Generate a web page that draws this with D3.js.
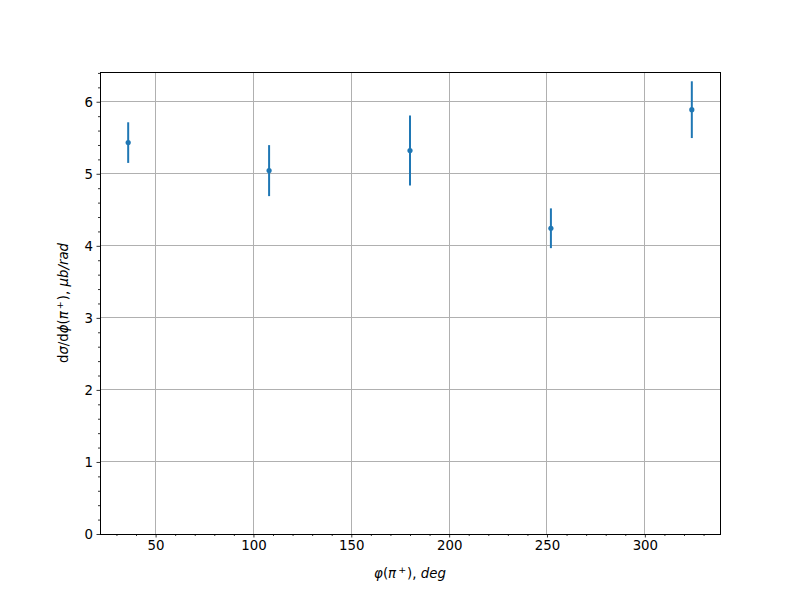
<!DOCTYPE html>
<html><head><meta charset="utf-8">
<script src="https://cdn.jsdelivr.net/npm/d3@7"></script>
<style>
body{margin:0;background:#fff;}
text{font-family:"DejaVu Sans",sans-serif;}
</style></head>
<body><svg id="c" width="800" height="600"></svg>
<script>
const phi = [36, 108, 180, 252, 324];
const sigma = [5.433, 5.044, 5.322, 4.244, 5.890];
const err = [0.282, 0.354, 0.486, 0.276, 0.394];
const xTicks = [50, 100, 150, 200, 250, 300];
const yTicks = [0, 1, 2, 3, 4, 5, 6];

const svg = d3.select("#c");
const L = 100, R = 720, T = 72, B = 534;
const x = d3.scaleLinear().domain([21.6, 338.4]).range([L, R]);
const y = d3.scaleLinear().domain([0, 6.413]).range([B, T]);
const color = "#1f77b4";

// grid
svg.append("g").selectAll("line").data(xTicks).join("line")
  .attr("x1", d => x(d)).attr("x2", d => x(d)).attr("y1", T).attr("y2", B)
  .attr("stroke", "#b0b0b0").attr("stroke-width", 1).attr("shape-rendering", "crispEdges");
svg.append("g").selectAll("line").data(yTicks).join("line")
  .attr("y1", d => y(d)).attr("y2", d => y(d)).attr("x1", L).attr("x2", R)
  .attr("stroke", "#b0b0b0").attr("stroke-width", 1).attr("shape-rendering", "crispEdges");

// axes
const xMinor = d3.range(30, 340, 10).filter(v => v % 50 !== 0);
const yMinor = d3.range(0, 6.41, 0.2).filter(v => Math.abs(v - Math.round(v)) > 1e-6);
const xAxis = d3.axisBottom(x).tickValues(xTicks).tickSize(3.5).tickPadding(3.5).tickFormat(d3.format("d"));
const xAxisMinor = d3.axisBottom(x).tickValues(xMinor).tickSize(2).tickFormat("");
const yAxis = d3.axisLeft(y).tickValues(yTicks).tickSize(3.5).tickPadding(3.5).tickFormat(d3.format("d"));
const yAxisMinor = d3.axisLeft(y).tickValues(yMinor).tickSize(2).tickFormat("");

function style(g){
  g.select(".domain").remove();
  g.selectAll("line").attr("stroke", "#000").attr("stroke-width", 0.8);
  g.selectAll("text").attr("font-size", "13.33px").attr("fill", "#000").attr("font-family", "DejaVu Sans");
}
svg.append("g").attr("transform", `translate(0,${B})`).call(xAxis).call(style);
svg.append("g").attr("transform", `translate(0,${B})`).call(xAxisMinor).call(style);
svg.append("g").attr("transform", `translate(${L},0)`).call(yAxis).call(style);
svg.append("g").attr("transform", `translate(${L},0)`).call(yAxisMinor).call(style);

// frame
svg.append("rect").attr("x", L).attr("y", T).attr("width", R - L).attr("height", B - T)
  .attr("fill", "none").attr("stroke", "#000").attr("stroke-width", 1).attr("shape-rendering", "crispEdges");

// error bars and points
const data = phi.map((p, i) => ({p, s: sigma[i], e: err[i]}));
svg.append("g").selectAll("line").data(data).join("line")
  .attr("x1", d => x(d.p)).attr("x2", d => x(d.p))
  .attr("y1", d => y(d.s - d.e)).attr("y2", d => y(d.s + d.e))
  .attr("stroke", color).attr("stroke-width", 2);
svg.append("g").selectAll("circle").data(data).join("circle")
  .attr("cx", d => x(d.p)).attr("cy", d => y(d.s)).attr("r", 2.6).attr("fill", color);

// labels
const xl = svg.append("text").attr("x", (L + R) / 2).attr("y", 578)
  .attr("text-anchor", "middle").attr("font-size", "13.33px");
xl.append("tspan").attr("font-style", "italic").text("φ");
xl.append("tspan").text("(");
xl.append("tspan").attr("font-style", "italic").text("π");
xl.append("tspan").attr("font-size", "9.5px").attr("dx", 2).attr("dy", -5).text("+");
xl.append("tspan").attr("dx", 1).attr("dy", 5).text("), ");
xl.append("tspan").attr("font-style", "italic").text("deg");

const yl = svg.append("text").attr("transform", `translate(68,${(T + B) / 2}) rotate(-90)`)
  .attr("text-anchor", "middle").attr("font-size", "13.33px");
yl.append("tspan").text("d");
yl.append("tspan").attr("font-style", "italic").text("σ");
yl.append("tspan").text("/d");
yl.append("tspan").attr("font-style", "italic").text("ϕ");
yl.append("tspan").text("(");
yl.append("tspan").attr("font-style", "italic").text("π");
yl.append("tspan").attr("font-size", "9.5px").attr("dx", 2).attr("dy", -5).text("+");
yl.append("tspan").attr("dx", 1).attr("dy", 5).text("), ");
yl.append("tspan").attr("font-style", "italic").text("μb/rad");
</script></body></html>
